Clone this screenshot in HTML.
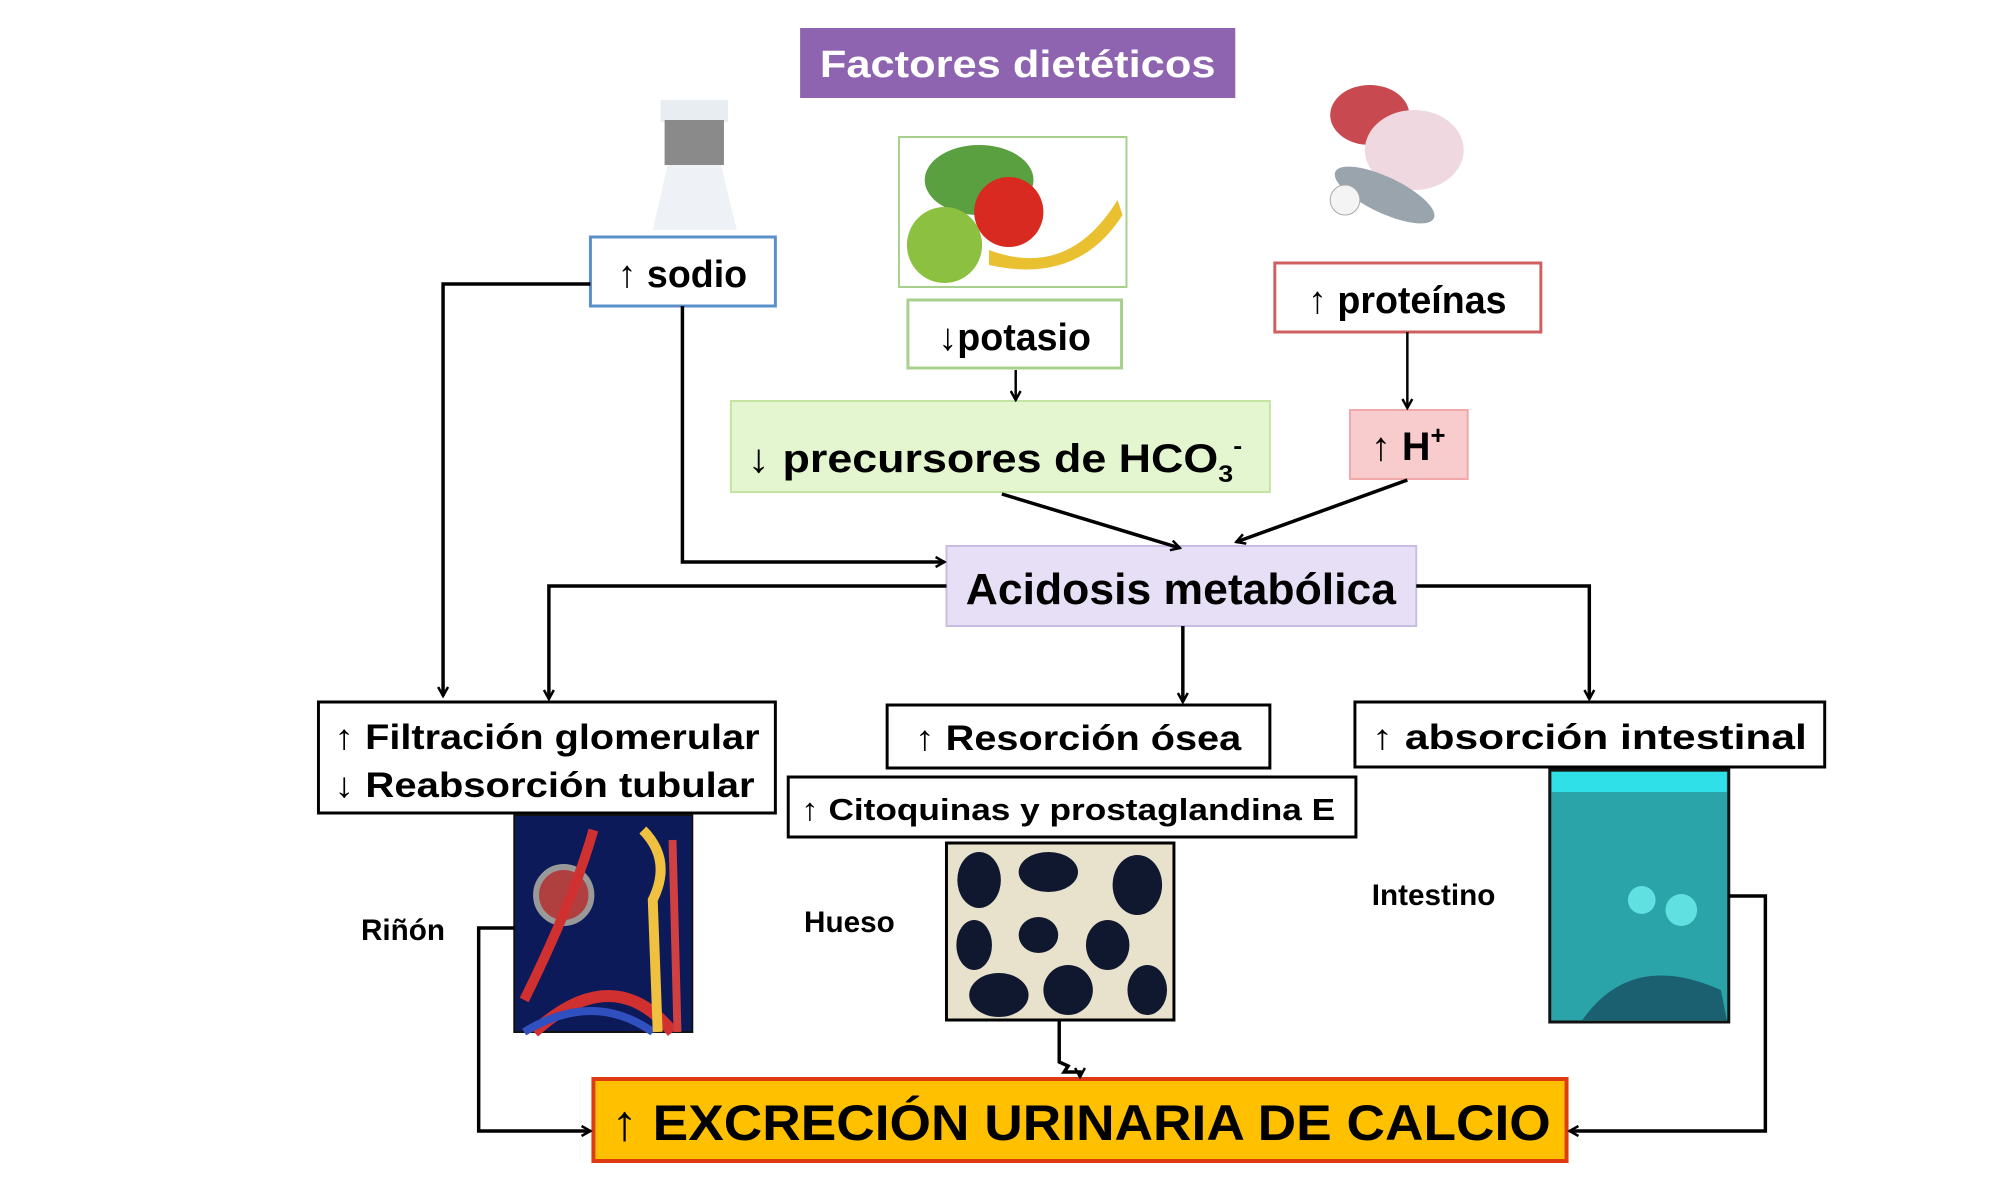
<!DOCTYPE html>
<html><head><meta charset="utf-8"><style>
html,body{margin:0;padding:0;background:#fff;}
svg{display:block;font-family:"Liberation Sans",sans-serif;font-weight:bold;}
</style></head><body>
<svg width="2000" height="1200" viewBox="0 0 2000 1200" xmlns="http://www.w3.org/2000/svg">
<defs>
<marker id="a" markerWidth="12" markerHeight="12" refX="10" refY="6" orient="auto" markerUnits="userSpaceOnUse">
<path d="M1,1 L10,6 L1,11" fill="none" stroke="#000" stroke-width="2.5"/>
</marker>
</defs>
<rect width="2000" height="1200" fill="#fff"/>
<g transform="scale(0.989,1)">
<!-- Title -->
<rect x="809" y="28" width="440" height="70" fill="#8e63b0"/>
<text x="1029" y="77" font-size="38" fill="#fff" text-anchor="middle" textLength="400" lengthAdjust="spacingAndGlyphs">Factores dietéticos</text>

<!-- faucet -->
<rect x="668" y="100" width="68" height="22" fill="#e8edf2"/>
<rect x="672" y="120" width="60" height="45" fill="#8a8a8a"/>
<polygon points="675,165 729,165 745,230 660,230" fill="#eef2f6"/>

<!-- food -->
<rect x="909" y="137" width="230" height="150" fill="#fff" stroke="#a8d08d" stroke-width="2"/>
<ellipse cx="990" cy="180" rx="55" ry="35" fill="#5aa040"/>
<circle cx="1020" cy="212" r="35" fill="#d82a20"/>
<ellipse cx="955" cy="245" rx="38" ry="38" fill="#8cc040"/>
<path d="M1000,250 Q1080,280 1130,200 L1135,215 Q1090,285 1000,265Z" fill="#e8c030"/>

<!-- meat -->
<ellipse cx="1385" cy="115" rx="40" ry="30" fill="#c84a50"/>
<ellipse cx="1430" cy="150" rx="50" ry="40" fill="#f0d8e0"/>
<ellipse cx="1400" cy="195" rx="55" ry="18" fill="#9aa4ac" transform="rotate(25 1400 195)"/>
<circle cx="1360" cy="200" r="15" fill="#f4f4f4" stroke="#aaa"/>

<!-- sodio -->
<rect x="597" y="237" width="187" height="69" fill="#fff" stroke="#5b8fc9" stroke-width="3"/>
<text x="690" y="287" font-size="38" text-anchor="middle">↑ sodio</text>

<!-- potasio -->
<rect x="918" y="300" width="216" height="68" fill="#fff" stroke="#a8d08d" stroke-width="3"/>
<text x="1026" y="350" font-size="38" text-anchor="middle">↓potasio</text>

<!-- proteinas -->
<rect x="1289" y="263" width="269" height="69" fill="#fff" stroke="#d06060" stroke-width="3"/>
<text x="1423" y="313" font-size="38" text-anchor="middle">↑ proteínas</text>

<!-- precursores -->
<rect x="739" y="401" width="545" height="91" fill="#e4f6d0" stroke="#c4e4a4" stroke-width="2"/>
<text x="756" y="472" font-size="40" textLength="500" lengthAdjust="spacingAndGlyphs">↓ precursores de HCO<tspan font-size="24" dy="10">3</tspan><tspan font-size="24" dy="-28">-</tspan></text>

<!-- H+ -->
<rect x="1365" y="410" width="119" height="69" fill="#f8cccc" stroke="#f0a8a8" stroke-width="2"/>
<text x="1424" y="460" font-size="40" text-anchor="middle">↑ H<tspan font-size="26" dy="-16">+</tspan></text>

<!-- Acidosis -->
<rect x="957" y="546" width="475" height="80" fill="#e6dff5" stroke="#c8bde4" stroke-width="2"/>
<text x="1194" y="604" font-size="44" text-anchor="middle" textLength="435" lengthAdjust="spacingAndGlyphs">Acidosis metabólica</text>

<!-- Lower boxes -->
<rect x="322" y="702" width="462" height="111" fill="#fff" stroke="#000" stroke-width="3"/>
<text x="338" y="749" font-size="35" textLength="430" lengthAdjust="spacingAndGlyphs">↑ Filtración glomerular</text>
<text x="338" y="797" font-size="35" textLength="425" lengthAdjust="spacingAndGlyphs">↓ Reabsorción tubular</text>

<rect x="897" y="705" width="387" height="63" fill="#fff" stroke="#000" stroke-width="3"/>
<text x="1090" y="750" font-size="35" text-anchor="middle" textLength="330" lengthAdjust="spacingAndGlyphs">↑ Resorción ósea</text>

<rect x="797" y="777" width="574" height="60" fill="#fff" stroke="#000" stroke-width="3"/>
<text x="810" y="820" font-size="31" textLength="540" lengthAdjust="spacingAndGlyphs">↑ Citoquinas y prostaglandina E</text>

<rect x="1370" y="702" width="475" height="65" fill="#fff" stroke="#000" stroke-width="3"/>
<text x="1607" y="749" font-size="35" text-anchor="middle" textLength="440" lengthAdjust="spacingAndGlyphs">↑ absorción intestinal</text>

<!-- kidney image -->
<rect x="520" y="815" width="180" height="217" fill="#0c1a5a" stroke="#111" stroke-width="2"/>
<circle cx="570" cy="895" r="28" fill="#b04040" stroke="#999" stroke-width="6"/>
<path d="M530,1000 Q580,900 600,830" stroke="#d03030" stroke-width="10" fill="none"/>
<path d="M540,1032 Q620,960 680,1032" stroke="#d03030" stroke-width="12" fill="none"/>
<path d="M530,1032 Q600,990 660,1032" stroke="#3050c0" stroke-width="8" fill="none"/>
<path d="M650,830 Q680,860 660,900 L665,1032" stroke="#f0c040" stroke-width="10" fill="none"/>
<path d="M680,840 L685,1032" stroke="#d04040" stroke-width="8" fill="none"/>

<!-- bone image -->
<rect x="957" y="843" width="230" height="177" fill="#e8e2cc" stroke="#000" stroke-width="3"/>
<ellipse cx="990" cy="880" rx="22" ry="28" fill="#101830"/>
<ellipse cx="1060" cy="872" rx="30" ry="20" fill="#101830"/>
<ellipse cx="1150" cy="885" rx="25" ry="30" fill="#101830"/>
<ellipse cx="985" cy="945" rx="18" ry="25" fill="#101830"/>
<ellipse cx="1050" cy="935" rx="20" ry="18" fill="#101830"/>
<ellipse cx="1120" cy="945" rx="22" ry="25" fill="#101830"/>
<ellipse cx="1010" cy="995" rx="30" ry="22" fill="#101830"/>
<ellipse cx="1080" cy="990" rx="25" ry="25" fill="#101830"/>
<ellipse cx="1160" cy="990" rx="20" ry="25" fill="#101830"/>

<!-- intestine image -->
<rect x="1567" y="770" width="181" height="252" fill="#2aa4a8" stroke="#111" stroke-width="3"/>
<rect x="1569" y="772" width="177" height="20" fill="#30e0e8"/>
<circle cx="1660" cy="900" r="14" fill="#60e0e0"/>
<circle cx="1700" cy="910" r="16" fill="#60e0e0"/>
<path d="M1600,1020 Q1650,950 1740,990 L1746,1020Z" fill="#1a6070"/>

<text x="365" y="940" font-size="30">Riñón</text>
<text x="813" y="932" font-size="30">Hueso</text>
<text x="1387" y="905" font-size="30">Intestino</text>

<!-- Excrecion -->
<rect x="600" y="1079" width="984" height="82" fill="#ffc000" stroke="#e03a10" stroke-width="4"/>
<text x="618" y="1140" font-size="50" textLength="950" lengthAdjust="spacingAndGlyphs">↑ EXCRECIÓN URINARIA DE CALCIO</text>

<!-- connectors -->
<g stroke="#000" stroke-width="3.5" fill="none">
<path d="M597,284 H448 V696" marker-end="url(#a)"/>
<path d="M690,306 V562 H955" marker-end="url(#a)"/>
<path d="M957,586 H555 V699" marker-end="url(#a)"/>
<path d="M1196,626 V702" marker-end="url(#a)"/>
<path d="M1432,586 H1607 V699" marker-end="url(#a)"/>
<path d="M1027,370 V400" marker-end="url(#a)" stroke-width="2.5"/>
<path d="M1423,332 V408" marker-end="url(#a)" stroke-width="2.5"/>
<path d="M1013,494 L1193,548" marker-end="url(#a)"/>
<path d="M1423,480 L1250,542" marker-end="url(#a)"/>
<path d="M520,928 H484 V1131 H597" marker-end="url(#a)"/>
<path d="M1071,1020 V1062 L1080,1066 L1076,1072 L1092,1072 V1077" marker-end="url(#a)"/>
<path d="M1748,896 H1785 V1131 H1587" marker-end="url(#a)"/>
</g>
</g>
</svg>
</body></html>
